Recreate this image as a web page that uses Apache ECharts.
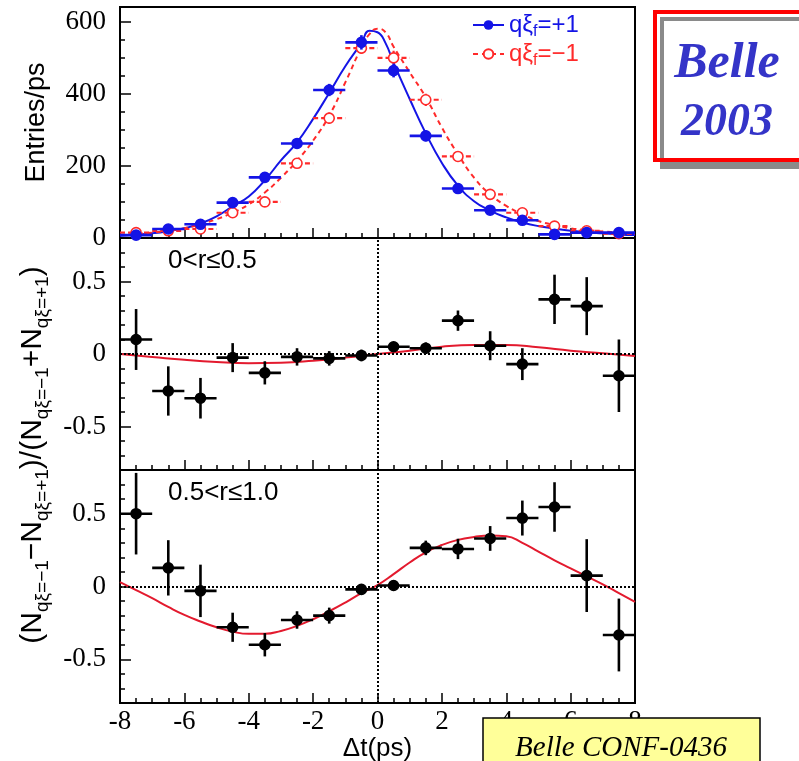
<!DOCTYPE html>
<html>
<head>
<meta charset="utf-8">
<script src="https://cdn.jsdelivr.net/npm/echarts@6/dist/echarts.min.js"></script>
<style>
  html, body { margin: 0; padding: 0; background: #fff; }
  #main { width: 799px; height: 761px; }
</style>
</head>
<body>
<div id="main"></div>
<script>
// bin centres (ps), 1 ps wide bins
var binT = [-7.5, -6.5, -5.5, -4.5, -3.5, -2.5, -1.5, -0.5, 0.5, 1.5, 2.5, 3.5, 4.5, 5.5, 6.5, 7.5]

// top panel: entries/ps for q xi_f = +1 and -1
var plusCounts = [8, 25, 38, 98, 168, 262, 410, 542, 464, 283, 137, 77, 49, 10, 15, 15]
var plusErr = [5, 6, 7, 10, 12, 14, 17, 20, 19, 15, 11, 9, 7, 5, 5, 5]
var minusCounts = [15, 20, 25, 70, 100, 207, 332, 526, 499, 383, 226, 121, 70, 33, 20, 12]
var minusErr = [5, 6, 6, 9, 10, 14, 16, 20, 20, 17, 13, 10, 8, 6, 5, 5]

// fit curves of top panel
var fitT = [-8, -7.5, -7, -6.5, -6, -5.5, -5, -4.5, -4, -3.5, -3, -2.5, -2, -1.5, -1, -0.5, -0.25, 0, 0.25, 0.5, 1, 1.5, 2, 2.5, 3, 3.5, 4, 4.5, 5, 5.5, 6, 6.5, 7, 7.5, 8]
var plusFit = [6, 9, 13, 19, 27, 40, 60, 88, 115, 160, 215, 265, 330, 402, 476, 540, 574, 570, 540, 485, 385, 290, 208, 145, 102, 76, 57, 43, 33, 26, 20, 16, 13, 10, 8]
var minusFit = [8, 11, 15, 20, 27, 38, 52, 70, 93, 126, 167, 214, 270, 339, 431, 528, 565, 580, 570, 530, 459, 390, 306, 232, 167, 121, 89, 66, 47, 36, 27, 22, 18, 15, 12]

// asymmetry panels
var lowFitT = [-8, -7, -6, -5, -4, -3, -2, -1, 0, 1, 2, 3, 4, 5, 6, 7, 8]
var lowRVals = [0.1, -0.255, -0.305, -0.025, -0.13, -0.02, -0.03, -0.01, 0.05, 0.04, 0.23, 0.057, -0.07, 0.377, 0.33, -0.15]
var lowRErr = [0.21, 0.17, 0.14, 0.1, 0.08, 0.06, 0.05, 0.04, 0.03, 0.04, 0.07, 0.1, 0.11, 0.17, 0.2, 0.25]
var lowRFit = [0, -0.02, -0.04, -0.055, -0.063, -0.06, -0.046, -0.025, 0, 0.023, 0.05, 0.062, 0.062, 0.046, 0.023, 0.005, -0.014]

var highFitT = [-8, -7.5, -7, -6.5, -6, -5.5, -5, -4.5, -4, -3.5, -3, -2.5, -2, -1.5, -1, -0.5, 0, 0.5, 1, 1.5, 2, 2.5, 3, 3.5, 4, 4.5, 5, 5.5, 6, 6.5, 7, 7.5, 8]
var highRVals = [0.5, 0.128, -0.03, -0.28, -0.4, -0.23, -0.2, -0.02, 0.007, 0.265, 0.258, 0.33, 0.47, 0.546, 0.075, -0.333]
var highRErr = [0.28, 0.19, 0.18, 0.1, 0.08, 0.06, 0.055, 0.03, 0.03, 0.05, 0.07, 0.085, 0.12, 0.17, 0.25, 0.25]
var highRFit = [0.03, -0.025, -0.08, -0.14, -0.195, -0.24, -0.28, -0.31, -0.325, -0.325, -0.305, -0.27, -0.225, -0.17, -0.11, -0.045, 0.01, 0.085, 0.165, 0.235, 0.285, 0.32, 0.34, 0.35, 0.345, 0.3, 0.24, 0.18, 0.125, 0.07, 0.015, -0.045, -0.105]

// tick labels
var topTicks = [0, 200, 400, 600]
var asymTicks = [-0.5, 0, 0.5]

var BLUE = '#1414e6'
var RED = '#ff2a2a'
var FIT_RED = '#e31a2e'
var SERIF = 'Liberation Serif'
var SANS = 'Liberation Sans'

function zip(xs, ys, es) {
  return xs.map(function (x, i) { return es ? [x, ys[i], es[i]] : [x, ys[i]] })
}

// error bar with +-0.5 ps horizontal bar
function errBar(color, dashed, hollow, width) {
  return function (params, api) {
    var x = api.value(0), y = api.value(1), e = api.value(2)
    var c = api.coord([x, y])
    var l = api.coord([x - 0.5, y])
    var r = api.coord([x + 0.5, y])
    var t = api.coord([x, y + e])
    var b = api.coord([x, y - e])
    var ls = { stroke: color, lineWidth: width, lineDash: dashed ? [5, 3] : null }
    return {
      type: 'group',
      children: [
        { type: 'line', shape: { x1: l[0], y1: l[1], x2: r[0], y2: r[1] }, style: ls },
        { type: 'line', shape: { x1: t[0], y1: t[1], x2: b[0], y2: b[1] }, style: ls },
        { type: 'circle', shape: { cx: c[0], cy: c[1], r: 5 },
          style: { fill: hollow ? '#fff' : color, stroke: color, lineWidth: 1.6 } }
      ]
    }
  }
}

var tickStyle = { color: '#000', width: 1.5 }
var grids = [
  { left: 120, top: 7, width: 515, height: 231 },
  { left: 120, top: 238, width: 515, height: 232 },
  { left: 120, top: 470, width: 515, height: 233 }
].map(function (g) {
  g.show = true
  g.borderColor = '#000'
  g.borderWidth = 2
  g.backgroundColor = 'transparent'
  g.outerBoundsMode = 'none'
  return g
})

var xAxes = [0, 1, 2].map(function (i) {
  return {
    type: 'value', gridIndex: i, position: 'bottom', min: -8, max: 8, interval: 2,
    axisLine: { show: false, onZero: false },
    splitLine: { show: false },
    axisTick: { show: true, inside: true, length: 10, lineStyle: tickStyle },
    minorTick: { show: true, splitNumber: 4, length: 5, lineStyle: tickStyle },
    axisLabel: i === 2
      ? { color: '#000', fontFamily: SERIF, fontSize: 27, margin: 5 }
      : { show: false },
    name: i === 2 ? 'Δt(ps)' : '',
    nameLocation: 'middle',
    nameGap: 30,
    nameTextStyle: { color: '#000', fontFamily: SANS, fontSize: 26 }
  }
})

var yLabel = { show: true, color: '#000', fontFamily: SERIF, fontSize: 27, margin: 14 }

var yAxes = [
  // top panel: major + minor ticks
  {
    type: 'value', gridIndex: 0, position: 'left', min: 0, max: 640, interval: topTicks[1] - topTicks[0],
    axisLine: { show: false, onZero: false }, splitLine: { show: false },
    axisTick: { show: true, inside: true, length: 11, lineStyle: tickStyle },
    minorTick: { show: true, splitNumber: 4, length: 5, lineStyle: tickStyle },
    axisLabel: Object.assign({ showMaxLabel: false }, yLabel),
    name: 'Entries/ps', nameLocation: 'middle', nameGap: 70,
    nameTextStyle: { color: '#000', fontFamily: SANS, fontSize: 27 }
  },
  // middle panel: labelled axis, plus a short-tick axis moved onto the left edge
  {
    type: 'value', gridIndex: 1, position: 'left', min: -0.8, max: 0.8,
    axisLine: { show: false, onZero: false }, splitLine: { show: false },
    axisTick: { show: true, inside: true, length: 11, lineStyle: tickStyle, customValues: asymTicks },
    axisLabel: Object.assign({ customValues: asymTicks }, yLabel)
  },
  {
    type: 'value', gridIndex: 1, position: 'right', offset: -515, min: -0.8, max: 0.8, interval: 0.1,
    axisLine: { show: false, onZero: false }, splitLine: { show: false },
    axisTick: { show: true, inside: false, length: 5, lineStyle: tickStyle },
    axisLabel: { show: false }
  },
  // bottom panel
  {
    type: 'value', gridIndex: 2, position: 'left', min: -0.8, max: 0.8,
    axisLine: { show: false, onZero: false }, splitLine: { show: false },
    axisTick: { show: true, inside: true, length: 11, lineStyle: tickStyle, customValues: asymTicks },
    axisLabel: Object.assign({ customValues: asymTicks }, yLabel)
  },
  {
    type: 'value', gridIndex: 2, position: 'right', offset: -515, min: -0.8, max: 0.8, interval: 0.1,
    axisLine: { show: false, onZero: false }, splitLine: { show: false },
    axisTick: { show: true, inside: false, length: 5, lineStyle: tickStyle },
    axisLabel: { show: false }
  }
]

var zeroLines = {
  silent: true,
  symbol: ['none', 'none'],
  label: { show: false },
  lineStyle: { color: '#000', type: 'dotted', width: 2 },
  data: [{ xAxis: 0 }, { yAxis: 0 }]
}

var option = {
  animation: false,
  backgroundColor: '#fff',
  grid: grids,
  xAxis: xAxes,
  yAxis: yAxes,
  legend: {
    orient: 'vertical', left: 467, top: 8, itemWidth: 31, itemHeight: 12, itemGap: 2,
    selectedMode: false,
    data: ['qξf=+1', 'qξf=−1'],
    formatter: function (name) {
      return name.indexOf('+') > 0 ? '{b|qξ}{bs|f}{b|=+1}' : '{r|qξ}{rs|f}{r|=−1}'
    },
    textStyle: {
      fontFamily: SANS, fontSize: 24,
      rich: {
        b: { color: BLUE, fontFamily: SANS, fontSize: 24 },
        bs: { color: BLUE, fontFamily: SANS, fontSize: 16, padding: [14, 0, 0, 0] },
        r: { color: RED, fontFamily: SANS, fontSize: 24 },
        rs: { color: RED, fontFamily: SANS, fontSize: 16, padding: [14, 0, 0, 0] }
      }
    }
  },
  graphic: [
    { type: 'rect', z: 100, shape: { x: 655, y: 12, width: 170, height: 148 },
      style: { fill: '#fff', stroke: '#ff0000', lineWidth: 4,
               shadowColor: '#8a8a8a', shadowOffsetX: 7, shadowOffsetY: 7, shadowBlur: 0 } },
    { type: 'text', z: 101,
      style: { text: 'Belle', x: 727, y: 64, align: 'center', verticalAlign: 'middle',
               fontFamily: SERIF, fontStyle: 'italic', fontWeight: 'bold', fontSize: 50, fill: '#3434c8',
               textShadowColor: '#b0b0b0', textShadowOffsetX: 2, textShadowOffsetY: 2 } },
    { type: 'text', z: 101,
      style: { text: '2003', x: 727, y: 123, align: 'center', verticalAlign: 'middle',
               fontFamily: SERIF, fontStyle: 'italic', fontWeight: 'bold', fontSize: 46, fill: '#3434c8',
               textShadowColor: '#b0b0b0', textShadowOffsetX: 2, textShadowOffsetY: 2 } },
    { type: 'rect', z: 100, shape: { x: 483, y: 718, width: 277, height: 60 },
      style: { fill: '#ffff99', stroke: '#000', lineWidth: 1.5 } },
    { type: 'text', z: 101,
      style: { text: 'Belle CONF-0436', x: 621, y: 748, align: 'center', verticalAlign: 'middle',
               fontFamily: SERIF, fontStyle: 'italic', fontSize: 29, fill: '#000' } },
    { type: 'text', z: 50,
      style: { text: '0<r≤0.5', x: 168, y: 261, align: 'left', verticalAlign: 'middle',
               fontFamily: SANS, fontSize: 26, fill: '#000' } },
    { type: 'text', z: 50,
      style: { text: '0.5<r≤1.0', x: 168, y: 493, align: 'left', verticalAlign: 'middle',
               fontFamily: SANS, fontSize: 26, fill: '#000' } },
    { type: 'text', z: 50, x: 33, y: 455, rotation: Math.PI / 2,
      style: {
        text: '{m|(N}{s|qξ=−1}{m|−N}{s|qξ=+1}{m|)/(N}{s|qξ=−1}{m|+N}{s|qξ=+1}{m|)}',
        align: 'center', verticalAlign: 'middle', fill: '#000',
        rich: {
          m: { fontFamily: SANS, fontSize: 30, fill: '#000' },
          s: { fontFamily: SANS, fontSize: 19, fill: '#000', padding: [20, 0, 0, 0] }
        }
      } }
  ],
  series: [
    { name: 'qξf=+1', type: 'line', xAxisIndex: 0, yAxisIndex: 0, smooth: true,
      data: zip(fitT, plusFit), showSymbol: false, symbol: 'circle', symbolSize: 9,
      itemStyle: { color: BLUE }, lineStyle: { color: BLUE, width: 2 }, z: 2 },
    { name: 'qξf=−1', type: 'line', xAxisIndex: 0, yAxisIndex: 0, smooth: true,
      data: zip(fitT, minusFit), showSymbol: false, symbol: 'circle', symbolSize: 9,
      itemStyle: { color: '#fff', borderColor: RED, borderWidth: 1.6 },
      lineStyle: { color: RED, width: 2, type: [5, 4] }, z: 2 },
    { type: 'custom', xAxisIndex: 0, yAxisIndex: 0, renderItem: errBar(RED, true, true, 2.2),
      data: zip(binT, minusCounts, minusErr), encode: { x: 0, y: 1 }, z: 3 },
    { type: 'custom', xAxisIndex: 0, yAxisIndex: 0, renderItem: errBar(BLUE, false, false, 2.6),
      data: zip(binT, plusCounts, plusErr), encode: { x: 0, y: 1 }, z: 4 },
    { type: 'line', xAxisIndex: 1, yAxisIndex: 1, smooth: true, showSymbol: false,
      data: zip(lowFitT, lowRFit), lineStyle: { color: FIT_RED, width: 2 }, markLine: zeroLines, z: 2 },
    { type: 'custom', xAxisIndex: 1, yAxisIndex: 1, renderItem: errBar('#000', false, false, 2.6),
      data: zip(binT, lowRVals, lowRErr), encode: { x: 0, y: 1 }, z: 4 },
    { type: 'line', xAxisIndex: 2, yAxisIndex: 3, smooth: true, showSymbol: false,
      data: zip(highFitT, highRFit), lineStyle: { color: FIT_RED, width: 2 }, markLine: zeroLines, z: 2 },
    { type: 'custom', xAxisIndex: 2, yAxisIndex: 3, renderItem: errBar('#000', false, false, 2.6),
      data: zip(binT, highRVals, highRErr), encode: { x: 0, y: 1 }, z: 4 }
  ]
}

var myChart = echarts.init(document.getElementById('main'))
myChart.setOption(option)
</script>
</body>
</html>
